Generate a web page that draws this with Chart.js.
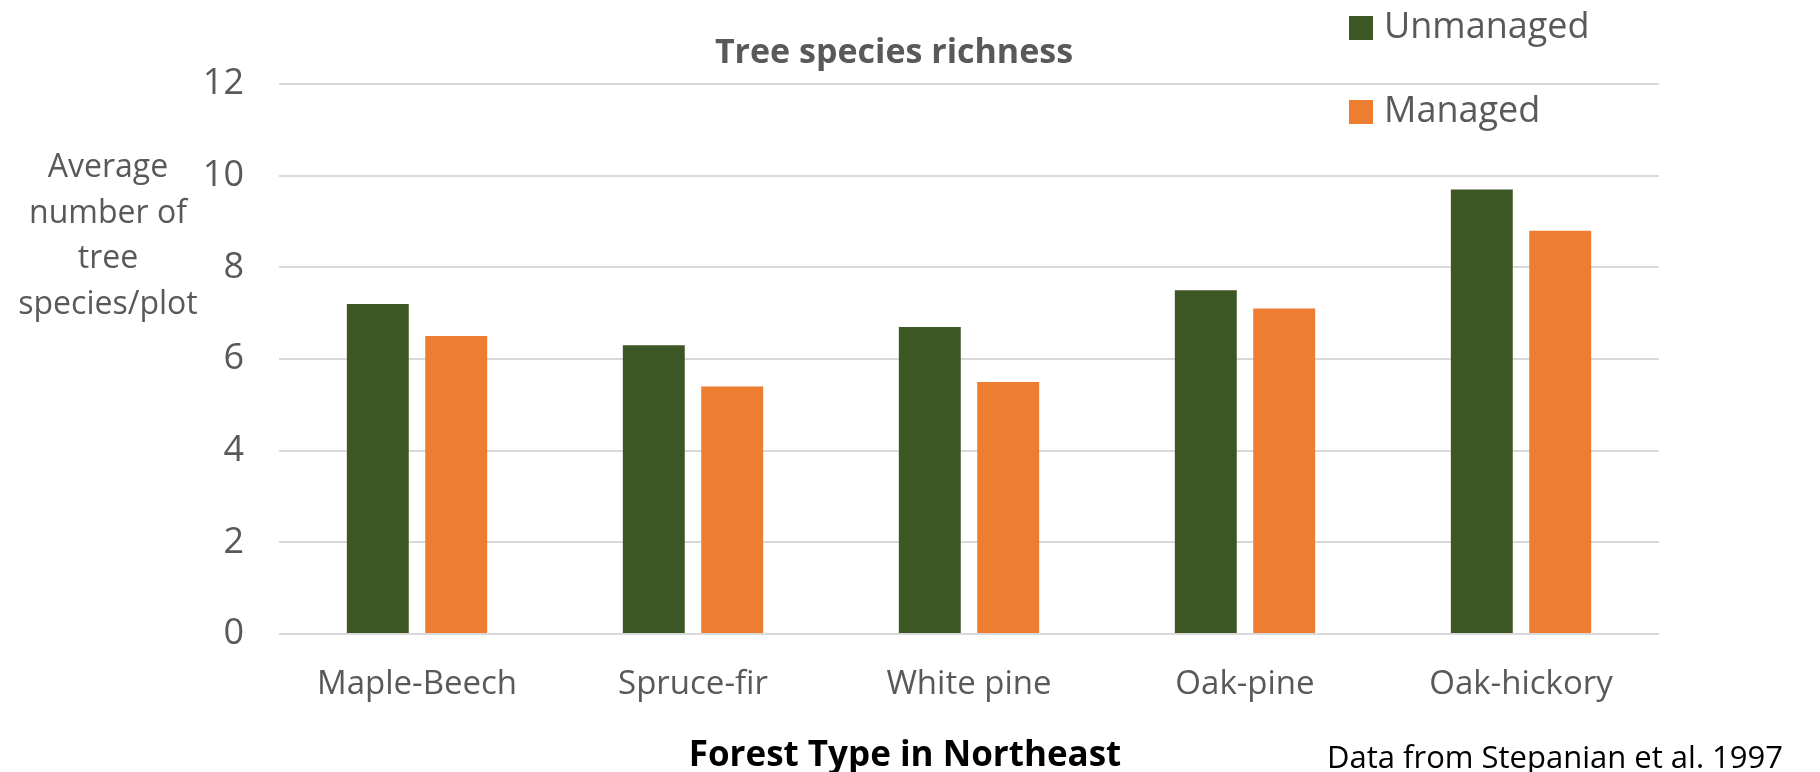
<!DOCTYPE html>
<html>
<head>
<meta charset="utf-8">
<title>Tree species richness</title>
<script src="https://cdn.jsdelivr.net/npm/chart.js@4"></script>
<style>
    html, body { margin: 0; padding: 0; background: #ffffff; }
    #wrap { width: 1820px; height: 772px; position: relative; }
</style>
</head>
<body>
<div id="wrap"><canvas id="richness-chart"></canvas></div>
<script>
const forestTypes = ['Maple-Beech', 'Spruce-fir', 'White pine', 'Oak-pine', 'Oak-hickory'];
const unmanaged = [7.2, 6.3, 6.7, 7.5, 9.7];
const managed = [6.5, 5.4, 5.5, 7.1, 8.8];
const yTicks = [0, 2, 4, 6, 8, 10, 12];
const yTitleLines = ['Average', 'number of', 'tree', 'species/plot'];

const GREY_TEXT = '#595959';
const FONT = '"Open Sans", "Noto Sans", sans-serif';

// titles, the source note and the stacked legend are drawn by hand
const annotations = {
    id: 'annotations',
    afterDraw(chart) {
        const ctx = chart.ctx;
        ctx.save();

        // chart title
        ctx.fillStyle = GREY_TEXT;
        ctx.textAlign = 'center';
        ctx.textBaseline = 'middle';
        ctx.font = 'bold 34px ' + FONT;
        ctx.fillText('Tree species richness', 894, 53);

        // y axis title, horizontal and centred left of the ticks
        ctx.font = '32px ' + FONT;
        yTitleLines.forEach((line, i) => {
            ctx.fillText(line, 108, 168 + i * 45.5);
        });

        // x axis title
        ctx.fillStyle = '#000000';
        ctx.font = 'bold 35px ' + FONT;
        ctx.fillText('Forest Type in Northeast', 905, 756);

        // source note
        ctx.textAlign = 'left';
        ctx.font = '31px ' + FONT;
        ctx.fillText('Data from Stepanian et al. 1997', 1327, 759);

        // legend, one item per row at the top right
        ctx.font = '36px ' + FONT;
        chart.data.datasets.forEach((ds, i) => {
            const cy = 28 + i * 84;
            ctx.fillStyle = ds.backgroundColor;
            ctx.fillRect(1349, cy - 12, 24, 24);
            ctx.fillStyle = GREY_TEXT;
            ctx.fillText(ds.label, 1384, cy);
        });

        ctx.restore();
    }
};

new Chart(document.getElementById('richness-chart'), {
    type: 'bar',
    data: {
        labels: forestTypes,
        datasets: [{
            label: 'Unmanaged',
            data: unmanaged,
            backgroundColor: '#3C5724',
            categoryPercentage: 0.568,
            barPercentage: 0.79
        }, {
            label: 'Managed',
            data: managed,
            backgroundColor: '#ED7D31',
            categoryPercentage: 0.568,
            barPercentage: 0.79
        }]
    },
    options: {
        responsive: true,
        maintainAspectRatio: false,
        animation: false,
        layout: {
            padding: { top: 84, right: 161, bottom: 0, left: 0 }
        },
        plugins: {
            legend: { display: false },
            title: { display: false },
            tooltip: { enabled: false }
        },
        scales: {
            x: {
                grid: { display: false },
                border: { display: false },
                ticks: {
                    color: GREY_TEXT,
                    font: { family: FONT, size: 33 },
                    padding: 23,
                    maxRotation: 0
                },
                afterFit(scale) { scale.height = 138; }
            },
            y: {
                min: 0,
                max: 12,
                grid: {
                    color: '#D9D9D9',
                    lineWidth: 2,
                    drawTicks: false
                },
                border: { display: false },
                ticks: {
                    color: GREY_TEXT,
                    font: { family: FONT, size: 36 },
                    padding: 35,
                    stepSize: 2,
                    callback: (value) => yTicks.includes(value) ? value : ''
                },
                afterFit(scale) { scale.width = 279; }
            }
        }
    },
    plugins: [annotations]
});
</script>
</body>
</html>
